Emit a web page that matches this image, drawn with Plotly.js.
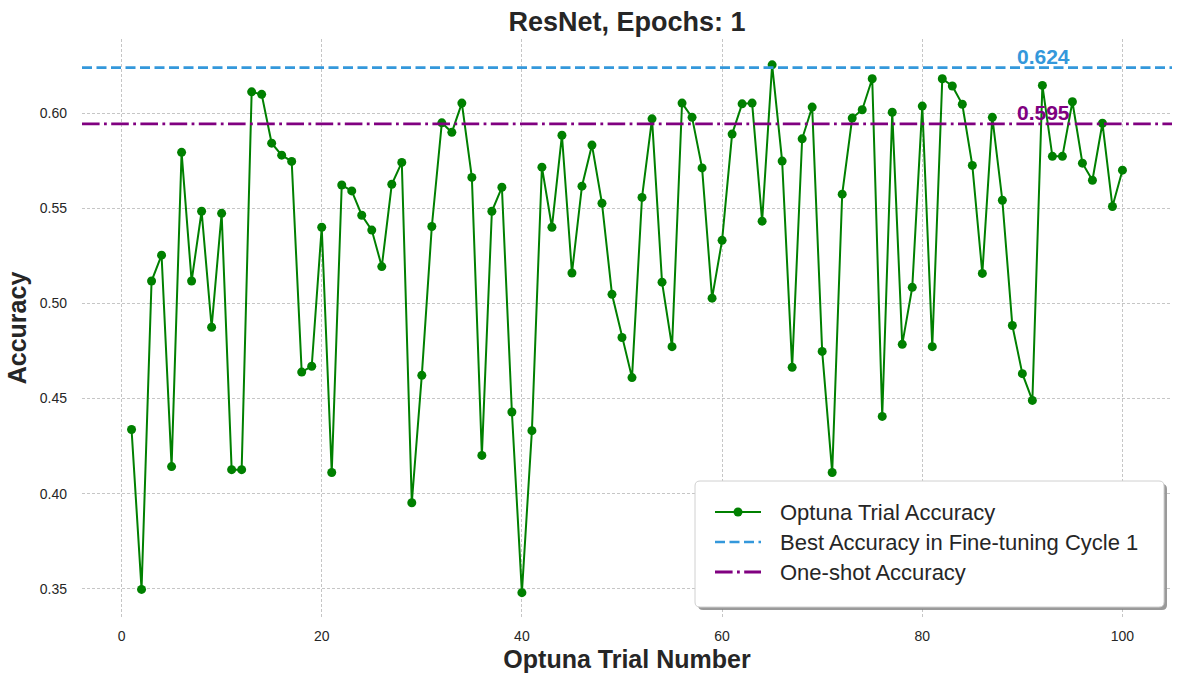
<!DOCTYPE html>
<html>
<head>
<meta charset="utf-8">
<script src="https://cdn.plot.ly/plotly-3.0.1.min.js"></script>
<style>html,body{margin:0;padding:0;background:#fff;}#chart{width:1184px;height:684px;}</style>
</head>
<body>
<div id="chart"></div>
<script>
const trialNumbers = Array.from({length: 100}, (_, i) => i + 1);
const trialAccuracy = [
  0.4337, 0.3496, 0.5118, 0.5254, 0.4142, 0.5795, 0.5118, 0.5485, 0.4875, 0.5474,
  0.4126, 0.4126, 0.6113, 0.6100, 0.5843, 0.5780, 0.5747, 0.4639, 0.4670, 0.5401,
  0.4111, 0.5623, 0.5592, 0.5464, 0.5386, 0.5194, 0.5627, 0.5742, 0.3952, 0.4622,
  0.5405, 0.5950, 0.5900, 0.6054, 0.5663, 0.4201, 0.5485, 0.5611, 0.4429, 0.3479,
  0.4331, 0.5717, 0.5401, 0.5885, 0.5160, 0.5617, 0.5833, 0.5527, 0.5048, 0.4821,
  0.4610, 0.5558, 0.5971, 0.5112, 0.4773, 0.6054, 0.5979, 0.5713, 0.5028, 0.5332,
  0.5891, 0.6050, 0.6054, 0.5433, 0.6255, 0.5749, 0.4664, 0.5866, 0.6033, 0.4748,
  0.4111, 0.5575, 0.5975, 0.6019, 0.6182, 0.4406, 0.6006, 0.4785, 0.5085, 0.6038,
  0.4773, 0.6182, 0.6144, 0.6048, 0.5726, 0.5158, 0.5979, 0.5543, 0.4884, 0.4631,
  0.4490, 0.6147, 0.5774, 0.5774, 0.6061, 0.5738, 0.5648, 0.5948, 0.5510, 0.5701
];
const bestAccuracy = 0.624;
const oneShotAccuracy = 0.5945;
const bestLabel = "0.624";
const oneShotLabel = "0.595";
const seriesNames = ['Optuna Trial Accuracy', 'Best Accuracy in Fine-tuning Cycle 1', 'One-shot Accuracy'];
const xRange = [-3.95, 104.95];
const yRange = [0.3351, 0.6391];
const xTicks = [0, 20, 40, 60, 80, 100];
const yTicks = [0.35, 0.40, 0.45, 0.50, 0.55, 0.60];

const txt = '#262626';
const GREEN = '#008000', BLUE = '#3498db', PURPLE = '#800080';
const BLUE_DASH = '10px,4.5px';
const PURPLE_DASH = '17.6px,4.4px,2.8px,4.4px';

const traces = [
  {
    x: trialNumbers, y: trialAccuracy, type: 'scatter', mode: 'lines+markers',
    name: seriesNames[0],
    line: {color: GREEN, width: 2},
    marker: {color: GREEN, size: 9}
  },
  {
    x: xRange, y: [bestAccuracy, bestAccuracy], type: 'scatter', mode: 'lines',
    name: seriesNames[1],
    line: {color: BLUE, width: 2.7, dash: BLUE_DASH}
  },
  {
    x: xRange, y: [oneShotAccuracy, oneShotAccuracy], type: 'scatter', mode: 'lines',
    name: seriesNames[2],
    line: {color: PURPLE, width: 2.8, dash: PURPLE_DASH}
  }
];

// plot area in pixels (for the hand-drawn legend box)
const PL = 82, PR = 1172, PT = 39, PB = 617;
const px = v => (v - PL) / (PR - PL);
const py = v => (PB - v) / (PB - PT);

function roundRect(x0, y0, x1, y1, r) {
  // pixel coords -> paper-coords path with rounded corners
  const rx = r / (PR - PL), ry = r / (PB - PT);
  const X0 = px(x0), X1 = px(x1), Y0 = py(y0), Y1 = py(y1); // Y0 top, Y1 bottom
  return `M${X0 + rx},${Y0} L${X1 - rx},${Y0} Q${X1},${Y0} ${X1},${Y0 - ry} ` +
         `L${X1},${Y1 + ry} Q${X1},${Y1} ${X1 - rx},${Y1} L${X0 + rx},${Y1} ` +
         `Q${X0},${Y1} ${X0},${Y1 + ry} L${X0},${Y0 - ry} Q${X0},${Y0} ${X0 + rx},${Y0} Z`;
}

const LB = {x0: 695, y0: 481, x1: 1164, y1: 607};
const rows = [512, 542, 572];
const symX0 = 715, symX1 = 761, textX = 779;

const shapes = [
  {type: 'path', xref: 'paper', yref: 'paper', layer: 'above',
   path: roundRect(LB.x0 + 3, LB.y0 + 3, LB.x1 + 3, LB.y1 + 3, 5),
   fillcolor: 'rgba(120,120,120,0.75)', line: {width: 0}},
  {type: 'path', xref: 'paper', yref: 'paper', layer: 'above',
   path: roundRect(LB.x0, LB.y0, LB.x1, LB.y1, 5),
   fillcolor: '#ffffff', line: {color: '#d0d0d0', width: 1}},
  {type: 'line', xref: 'paper', yref: 'paper', layer: 'above',
   x0: px(symX0), x1: px(symX1), y0: py(rows[0]), y1: py(rows[0]),
   line: {color: GREEN, width: 2}},
  {type: 'circle', xref: 'paper', yref: 'paper', layer: 'above',
   x0: px((symX0 + symX1) / 2 - 4.5), x1: px((symX0 + symX1) / 2 + 4.5),
   y0: py(rows[0] - 4.5), y1: py(rows[0] + 4.5),
   fillcolor: GREEN, line: {width: 0}},
  {type: 'line', xref: 'paper', yref: 'paper', layer: 'above',
   x0: px(symX0), x1: px(symX1), y0: py(rows[1]), y1: py(rows[1]),
   line: {color: BLUE, width: 2.7, dash: BLUE_DASH}},
  {type: 'line', xref: 'paper', yref: 'paper', layer: 'above',
   x0: px(symX0), x1: px(symX1), y0: py(rows[2]), y1: py(rows[2]),
   line: {color: PURPLE, width: 2.8, dash: PURPLE_DASH}}
];

const annotations = [
  {x: 95, y: bestAccuracy, xref: 'x', yref: 'y', text: '<b>' + bestLabel + '</b>',
   showarrow: false, xanchor: 'right', yanchor: 'bottom', yshift: -2,
   font: {size: 21, color: BLUE}},
  {x: 95, y: oneShotAccuracy, xref: 'x', yref: 'y', text: '<b>' + oneShotLabel + '</b>',
   showarrow: false, xanchor: 'right', yanchor: 'bottom', yshift: -2,
   font: {size: 21, color: PURPLE}}
];
seriesNames.forEach((n, i) => annotations.push({
  x: px(textX), y: py(rows[i]), xref: 'paper', yref: 'paper', text: n,
  showarrow: false, xanchor: 'left', yanchor: 'middle', borderpad: 0,
  font: {size: 22, color: txt}
}));

const layout = {
  width: 1184, height: 684,
  margin: {l: PL, r: 1184 - PR, t: PT, b: 684 - PB},
  paper_bgcolor: '#ffffff', plot_bgcolor: '#ffffff',
  font: {family: 'Liberation Sans, Arial, sans-serif', color: txt},
  title: {
    text: '<b>ResNet, Epochs: 1</b>',
    font: {size: 27, color: txt},
    x: 627 / 1184, xanchor: 'center', xref: 'container',
    y: 1 - 22/684, yanchor: 'middle', yref: 'container'
  },
  xaxis: {
    range: xRange, tickvals: xTicks, ticktext: xTicks.map(String),
    showgrid: true, gridcolor: '#b8b8b8', gridwidth: 0.8, griddash: '3px,2px',
    zeroline: false, showline: false, ticks: '', ticklabelstandoff: 9,
    tickfont: {size: 14, color: txt},
    title: {text: '<b>Optuna Trial Number</b>', font: {size: 25, color: txt}, standoff: 7}
  },
  yaxis: {
    range: yRange, tickvals: yTicks, ticktext: yTicks.map(v => v.toFixed(2)),
    showgrid: true, gridcolor: '#b8b8b8', gridwidth: 0.8, griddash: '3px,2px',
    zeroline: false, showline: false, ticks: '', ticklabelstandoff: 14,
    tickfont: {size: 14, color: txt},
    title: {text: '<b>Accuracy</b>', font: {size: 25, color: txt}, standoff: 6}
  },
  showlegend: false,
  shapes: shapes,
  annotations: annotations
};

Plotly.newPlot('chart', traces, layout, {displayModeBar: false, staticPlot: true});
</script>
</body>
</html>
